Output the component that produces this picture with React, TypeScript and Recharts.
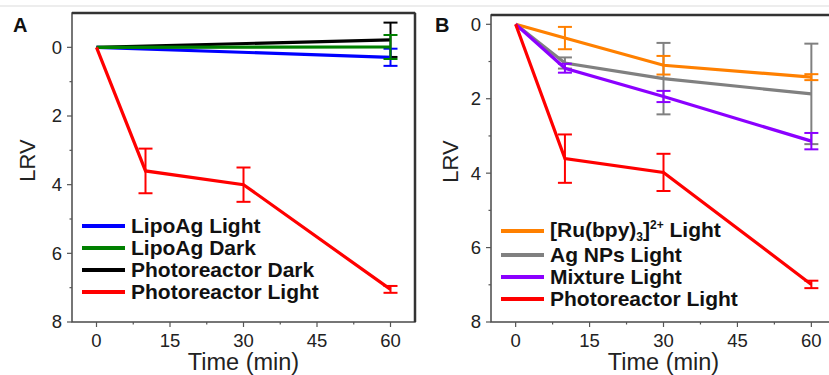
import React from 'react';
import { LineChart, Line, XAxis, YAxis, ErrorBar, ReferenceArea, ReferenceLine, Legend } from 'recharts';

const FONT = '"Liberation Sans", Arial, sans-serif';

// shared axis ticks (minor ticks unlabeled)
const timeTicks = [0, 7.5, 15, 22.5, 30, 37.5, 45, 52.5, 60];
const timeLabels = [0, 15, 30, 45, 60];
const lrvTicks = [0, 1, 2, 3, 4, 5, 6, 7, 8];
const lrvLabels = [0, 2, 4, 6, 8];

const timesFull = [0, 10, 30, 60];
const timesEnds = [0, 60];

// panel A
const lipoLight = [0, 0.29];
const lipoLightErr = [null, 0.25];
const lipoDark = [0, -0.01];
const lipoDarkErr = [null, 0.35];
const photoDark = [0, -0.22];
const photoDarkErr = [null, 0.5];
const photoLightA = [0, 3.6, 4.0, 7.05];
const photoLightAErr = [null, 0.65, 0.5, 0.1];

// panel B
const ruLight = [0, 0.37, 1.1, 1.42];
const ruLightErr = [null, 0.3, 0.25, 0.08];
const agLight = [0, 1.04, 1.46, 1.87];
const agLightErr = [null, 0.15, 0.96, 1.35];
const mixLight = [0, 1.18, 1.94, 3.14];
const mixLightErr = [null, 0.12, 0.15, 0.22];
const photoLightB = [0, 3.61, 3.98, 6.99];
const photoLightBErr = [null, 0.65, 0.5, 0.1];

const legendA = ['LipoAg Light', 'LipoAg Dark', 'Photoreactor Dark', 'Photoreactor Light'];
const legendAColors = ['#0000ff', '#008000', '#000000', '#ff0000'];
const legendB = ['ru', 'Ag NPs Light', 'Mixture Light', 'Photoreactor Light'];
const legendBColors = ['#ff8000', '#808080', '#8b00ff', '#ff0000'];

const rows = (ts: number[], vs: number[], es: (number | null)[]) =>
  ts.map((t, i) => ({ t, v: vs[i], e: es[i] }));

const YTick = (props: any) => {
  const { x, y, payload } = props;
  const major = lrvLabels.includes(payload.value);
  return (
    <g>
      <line x1={x} x2={x - (major ? 5 : 2.5)} y1={y} y2={y} stroke="#555" strokeWidth={1.2} />
      {major && (
        <text x={x - 10} y={y} dy="0.35em" textAnchor="end" fontSize={18.5} fontFamily={FONT} fill="#222">
          {payload.value}
        </text>
      )}
    </g>
  );
};

const XTick = (props: any) => {
  const { x, y, payload } = props;
  const major = timeLabels.includes(payload.value);
  return (
    <g>
      <line x1={x} x2={x} y1={y} y2={y + (major ? 5 : 2.5)} stroke="#555" strokeWidth={1.2} />
      {major && (
        <text x={x} y={y + 25} textAnchor="middle" fontSize={18.5} fontFamily={FONT} fill="#222">
          {payload.value}
        </text>
      )}
    </g>
  );
};

const legendText = (name: string) =>
  name === 'ru' ? (
    <>
      [Ru(bpy)<span style={{ fontSize: 12, position: 'relative', top: 4 }}>3</span>]
      <span style={{ fontSize: 12, position: 'relative', top: -8 }}>2+</span> Light
    </>
  ) : (
    name
  );

const LegendBox = ({ names, colors }: { names: string[]; colors: string[] }) => (
  <div style={{ fontFamily: FONT, fontWeight: 'bold', fontSize: 21, color: '#111', lineHeight: '22px' }}>
    {names.map((n, i) => (
      <div
        key={n}
        style={{ display: 'flex', alignItems: 'center', height: 22, marginBottom: n === 'ru' ? 2 : 0 }}
      >
        <svg width={43} height={6}>
          <rect x={0} y={1} width={43} height={4} fill={colors[i]} />
        </svg>
        <span style={{ marginLeft: 6, whiteSpace: 'nowrap' }}>{legendText(n)}</span>
      </div>
    ))}
  </div>
);

const Series = (data: any[], color: string, key: string) => (
  <Line
    key={key}
    data={data}
    dataKey="v"
    type="linear"
    stroke={color}
    strokeWidth={3.2}
    dot={false}
    isAnimationActive={false}
  >
    <ErrorBar dataKey="e" direction="y" width={7} stroke={color} strokeWidth={2} />
  </Line>
);

// top/right border drawn as a path so it renders reliably
const EdgeShape = (props: any) => {
  const { x1, y1, x2, y2 } = props;
  return <path d={`M${x1},${y1}L${x2},${y2}`} stroke="#333" strokeWidth={2.5} fill="none" />;
};

const Panel = ({ top, yMin, labelX, rightMargin, series, names, colors, legendTop }: any) => (
  <LineChart width={420} height={375} margin={{ top, right: rightMargin, left: 0, bottom: 0 }}>
    <XAxis
      type="number"
      dataKey="t"
      domain={[-5, 65]}
      allowDataOverflow
      ticks={timeTicks}
      interval={0}
      tick={<XTick />}
      tickLine={false}
      tickSize={0}
      tickMargin={0}
      height={375 - 322}
      axisLine={false}
      label={{
        content: ({ viewBox }: any) => (
          <text
            x={viewBox.x + viewBox.width / 2}
            y={viewBox.y + 48}
            textAnchor="middle"
            fontSize={23.5}
            fontFamily={FONT}
            fill="#222"
          >
            Time (min)
          </text>
        ),
      }}
    />
    <YAxis
      type="number"
      reversed
      domain={[yMin, 8]}
      allowDataOverflow
      ticks={lrvTicks}
      interval={0}
      tick={<YTick />}
      tickLine={false}
      tickSize={0}
      tickMargin={0}
      width={72}
      axisLine={false}
      label={{
        content: ({ viewBox }: any) => {
          const cx = viewBox.x + labelX;
          const cy = viewBox.y + viewBox.height / 2 - 7;
          return (
            <text
              x={cx}
              y={cy}
              transform={`rotate(-90, ${cx}, ${cy})`}
              textAnchor="middle"
              fontSize={22}
              fontFamily={FONT}
              fill="#222"
            >
              LRV
            </text>
          );
        },
      }}
    />
    <ReferenceArea
      x1={-5}
      x2={65}
      y1={yMin}
      y2={8}
      fill="none"
      fillOpacity={0}
      stroke="#4a4a4a"
      strokeWidth={1.5}
      ifOverflow="visible"
    />
    <ReferenceLine y={yMin} ifOverflow="visible" shape={<EdgeShape />} />
    <ReferenceLine x={65} ifOverflow="visible" shape={<EdgeShape />} />
    {series}
    <Legend
      layout="vertical"
      align="center"
      verticalAlign="middle"
      wrapperStyle={{ left: 82, top: legendTop, width: 'auto' }}
      content={() => <LegendBox names={names} colors={colors} />}
    />
  </LineChart>
);

export default function App() {
  const seriesA = [
    Series(rows(timesEnds, photoDark, photoDarkErr), '#000000', 'pd'),
    Series(rows(timesEnds, lipoLight, lipoLightErr), '#0000ff', 'll'),
    Series(rows(timesEnds, lipoDark, lipoDarkErr), '#008000', 'ld'),
    Series(rows(timesFull, photoLightA, photoLightAErr), '#ff0000', 'pl'),
  ];
  const seriesB = [
    Series(rows(timesFull, agLight, agLightErr), '#808080', 'ag'),
    Series(rows(timesFull, ruLight, ruLightErr), '#ff8000', 'ru'),
    Series(rows(timesFull, mixLight, mixLightErr), '#8b00ff', 'mx'),
    Series(rows(timesFull, photoLightB, photoLightBErr), '#ff0000', 'pl'),
  ];
  return (
    <div
      style={{
        position: 'fixed',
        left: 0,
        top: 0,
        width: 829,
        height: 375,
        overflow: 'hidden',
        background: '#fff',
        fontFamily: FONT,
      }}
    >
      <div style={{ position: 'absolute', left: 0, top: 5, width: 829, height: 2, background: '#ededed' }} />
      <div style={{ position: 'absolute', left: 0, top: 0 }}>
        <Panel
          top={13}
          yMin={-1}
          labelX={35}
          rightMargin={5}
          series={seriesA}
          names={legendA}
          colors={legendAColors}
          legendTop={215}
        />
      </div>
      <div style={{ position: 'absolute', left: 419, top: 0 }}>
        <Panel
          top={15}
          yMin={-0.25}
          labelX={39}
          rightMargin={3}
          series={seriesB}
          names={legendB}
          colors={legendBColors}
          legendTop={220}
        />
      </div>
      <svg width={829} height={375} style={{ position: 'absolute', left: 0, top: 0, pointerEvents: 'none' }}>
        <text x={13} y={32} fontSize={20} fontWeight="bold" fontFamily={FONT} fill="#111">
          A
        </text>
        <text x={435} y={32} fontSize={20} fontWeight="bold" fontFamily={FONT} fill="#111">
          B
        </text>
      </svg>
    </div>
  );
}
